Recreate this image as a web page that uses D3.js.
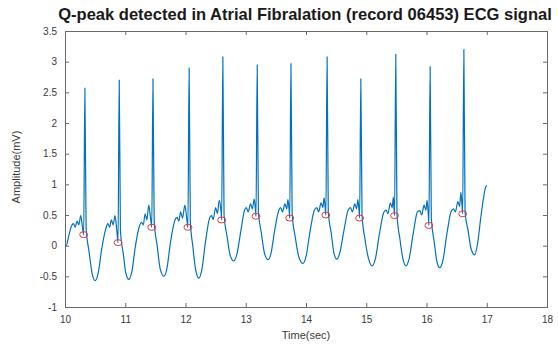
<!DOCTYPE html>
<html><head><meta charset="utf-8">
<script src="https://cdn.jsdelivr.net/npm/d3@7"></script>
<style>body{margin:0;background:#fff}svg{display:block}</style>
</head><body>
<script>
// ECG samples (time in s, amplitude in mV)
const ecgTime = [
10.00,10.02,10.06,10.10,10.14,10.17,10.20,10.23,10.26,10.29,10.31,10.33,10.35,10.40,10.45,10.50,
10.55,10.61,10.67,10.71,10.74,10.77,10.80,10.83,10.86,10.88,10.90,10.92,10.97,11.01,11.06,
11.11,11.17,11.23,11.27,11.30,11.33,11.36,11.39,11.42,11.44,11.46,11.48,11.53,11.58,11.64,
11.69,11.75,11.82,11.86,11.89,11.92,11.95,11.99,12.02,12.04,12.06,12.08,12.12,12.17,12.22,
12.27,12.33,12.40,12.43,12.46,12.50,12.53,12.56,12.59,12.60,12.62,12.64,12.69,12.74,12.80,
12.85,12.92,12.98,13.01,13.04,13.08,13.11,13.14,13.16,13.17,13.19,13.21,13.26,13.31,13.37,
13.42,13.48,13.55,13.58,13.61,13.65,13.68,13.70,13.72,13.73,13.75,13.77,13.82,13.88,13.95,
14.00,14.07,14.14,14.18,14.21,14.25,14.28,14.30,14.32,14.33,14.35,14.37,14.42,14.46,14.51,
14.56,14.63,14.70,14.74,14.77,14.81,14.84,14.86,14.88,14.89,14.91,14.93,14.98,15.04,15.10,
15.15,15.22,15.29,15.33,15.36,15.40,15.43,15.45,15.46,15.47,15.49,15.51,15.56,15.61,15.66,
15.71,15.78,15.85,15.89,15.92,15.96,15.99,16.01,16.03,16.04,16.06,16.08,16.13,16.17,16.22,
16.27,16.34,16.41,16.45,16.48,16.52,16.55,16.57,16.59,16.60,16.62,16.64,16.69,16.74,16.80,
16.85,16.90,16.95,16.98,17.00];
const ecgAmp = [
0.00,0.00,0.15,0.30,0.36,0.30,0.40,0.34,0.49,0.30,0.18,2.57,0.30,-0.10,-0.45,-0.57,
-0.45,-0.05,0.25,0.36,0.30,0.42,0.34,0.49,0.25,0.05,2.70,0.25,-0.15,-0.45,-0.55,
-0.42,0.00,0.30,0.38,0.34,0.52,0.42,0.66,0.45,0.30,2.72,0.40,0.00,-0.38,-0.50,
-0.38,0.05,0.40,0.46,0.40,0.55,0.45,0.66,0.45,0.30,2.90,0.40,0.00,-0.40,-0.53,
-0.40,0.05,0.45,0.49,0.43,0.62,0.52,0.74,0.55,0.42,3.08,0.50,0.15,-0.15,-0.25,
-0.15,0.25,0.58,0.62,0.55,0.68,0.60,0.76,0.60,0.48,2.95,0.55,0.20,-0.12,-0.23,
-0.12,0.25,0.58,0.62,0.55,0.68,0.60,0.75,0.58,0.45,2.97,0.52,0.15,-0.18,-0.29,
-0.18,0.25,0.58,0.62,0.55,0.70,0.62,0.78,0.60,0.50,3.08,0.55,0.20,-0.10,-0.22,
-0.12,0.25,0.58,0.62,0.55,0.68,0.60,0.75,0.58,0.45,2.72,0.50,0.10,-0.22,-0.33,
-0.22,0.20,0.54,0.58,0.52,0.70,0.62,0.79,0.62,0.49,3.12,0.52,0.10,-0.22,-0.33,
-0.22,0.20,0.55,0.57,0.50,0.66,0.58,0.74,0.50,0.33,2.92,0.45,0.05,-0.25,-0.36,
-0.25,0.20,0.56,0.60,0.55,0.72,0.64,0.87,0.65,0.52,3.20,0.55,0.25,-0.05,-0.15,
0.05,0.45,0.80,0.95,0.98];

// Detected Q-peaks
const qTime = [10.31,10.88,11.44,12.04,12.60,13.17,13.73,14.33,14.89,15.47,16.04,16.60];
const qAmp  = [0.18,0.05,0.30,0.30,0.42,0.48,0.45,0.50,0.45,0.49,0.33,0.52];

const xTicks = [10,11,12,13,14,15,16,17,18];
const yTicks = [-1,-0.5,0,0.5,1,1.5,2,2.5,3,3.5];
const titleText = "Q-peak detected in Atrial Fibralation (record 06453) ECG signal";
const xLabel = "Time(sec)";
const yLabel = "Amplitude(mV)";

const W = 558, H = 344;
const L = 65, R = 547, T = 31, B = 307;
const axisColor = "#6a6a6a", textColor = "#3a3a3a";
const font = "'Liberation Sans', Arial, Helvetica, sans-serif";

const svg = d3.select("body").append("svg").attr("width", W).attr("height", H)
  .style("font-family", font);

const x = d3.scaleLinear().domain([10, 18]).range([L, R]);
const y = d3.scaleLinear().domain([-1, 3.5]).range([B, T]);

const fmt = d => String(d);

// axes (ticks inside, box on all sides)
const gx = svg.append("g").attr("transform", `translate(0,${B})`)
  .call(d3.axisBottom(x).tickValues(xTicks).tickSize(-4).tickPadding(9).tickFormat(fmt));
const gxt = svg.append("g").attr("transform", `translate(0,${T})`)
  .call(d3.axisTop(x).tickValues(xTicks).tickSize(-4).tickFormat(""));
const gy = svg.append("g").attr("transform", `translate(${L},0)`)
  .call(d3.axisLeft(y).tickValues(yTicks).tickSize(-4).tickPadding(8).tickFormat(fmt));
const gyr = svg.append("g").attr("transform", `translate(${R},0)`)
  .call(d3.axisRight(y).tickValues(yTicks).tickSize(-4).tickFormat(""));
[gx, gxt, gy, gyr].forEach(g => {
  g.selectAll("path.domain").attr("stroke", axisColor).attr("stroke-width", 1);
  g.selectAll(".tick line").attr("stroke", axisColor);
  g.selectAll("text").attr("fill", textColor).style("font-size", "10px").style("font-family", font);
});

// ECG line
const pts = ecgTime.map((t, i) => [t, ecgAmp[i]]);
svg.append("path").datum(pts)
  .attr("fill", "none").attr("stroke", "#0072BD").attr("stroke-width", 1.2)
  .attr("stroke-linejoin", "round")
  .attr("d", d3.line().x(d => x(d[0])).y(d => y(d[1])).curve(d3.curveMonotoneX));

// Q markers
svg.append("g").selectAll("ellipse").data(qTime.map((t, i) => [t, qAmp[i]]))
  .join("ellipse")
  .attr("cx", d => x(d[0])).attr("cy", d => y(d[1]))
  .attr("rx", 4).attr("ry", 3)
  .attr("fill", "none").attr("stroke", "#e23b3b").attr("stroke-width", 1);

// title
const title = svg.append("text").attr("x", 305).attr("y", 20)
  .attr("text-anchor", "middle").attr("font-weight", "bold").attr("fill", "#1a1a1a")
  .style("font-size", "13px").text(titleText);
const tw = title.node().getComputedTextLength();
title.style("font-size", (13 * 494 / tw).toFixed(2) + "px");

// axis labels
svg.append("text").attr("x", (L + R) / 2).attr("y", 339)
  .attr("text-anchor", "middle").attr("fill", textColor).style("font-size", "11px").text(xLabel);
svg.append("text").attr("transform", `translate(20,${(T + B) / 2 - 2}) rotate(-90)`)
  .attr("text-anchor", "middle").attr("fill", textColor).style("font-size", "11px").text(yLabel);
</script>
</body></html>
